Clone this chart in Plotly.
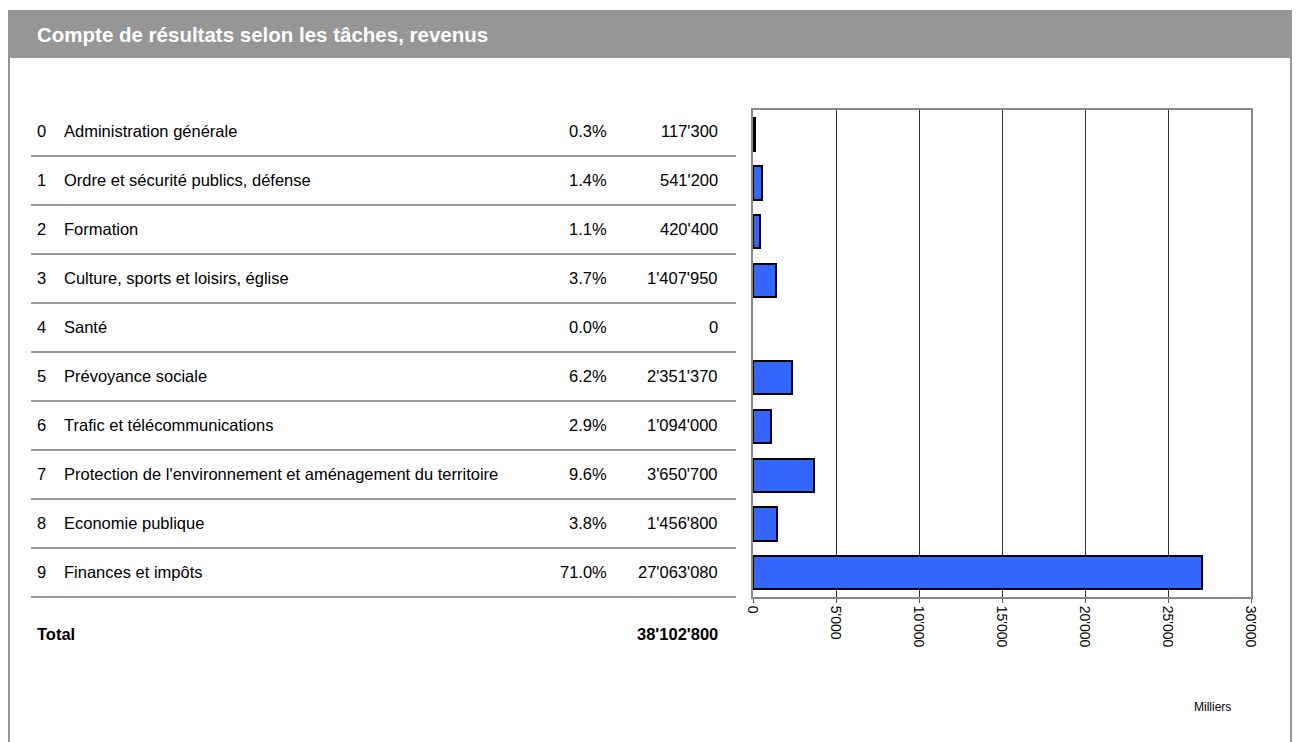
import plotly.graph_objects as go

W, H = 1296, 742

codes = ["0", "1", "2", "3", "4", "5", "6", "7", "8", "9"]
labels = [
    "Administration générale",
    "Ordre et sécurité publics, défense",
    "Formation",
    "Culture, sports et loisirs, église",
    "Santé",
    "Prévoyance sociale",
    "Trafic et télécommunications",
    "Protection de l'environnement et aménagement du territoire",
    "Economie publique",
    "Finances et impôts",
]
pct_labels = ["0.3%", "1.4%", "1.1%", "3.7%", "0.0%", "6.2%", "2.9%", "9.6%", "3.8%", "71.0%"]
values = [117300, 541200, 420400, 1407950, 0, 2351370, 1094000, 3650700, 1456800, 27063080]
value_labels = ["117'300", "541'200", "420'400", "1'407'950", "0", "2'351'370",
                "1'094'000", "3'650'700", "1'456'800", "27'063'080"]
total_label = "38'102'800"
tick_vals = [0, 5000, 10000, 15000, 20000, 25000, 30000]
tick_text = ["0", "5'000", "10'000", "15'000", "20'000", "25'000", "30'000"]

FONT = "Liberation Sans, Arial, sans-serif"
TS = 16.5

def px(x):
    return x / W

def py(y):
    return 1 - y / H

# plot area in pixels
PX0, PX1 = 753, 1251
PY0, PY1 = 110, 597

fig = go.Figure()
fig.add_trace(go.Bar(
    x=[v / 1000 for v in values],
    y=list(range(len(values))),
    orientation="h",
    width=0.68,
    marker=dict(color="#3366FF",
                line=dict(color="#000000", width=[2 if v > 0 else 0 for v in values])),
    hoverinfo="skip",
    showlegend=False,
))

shapes = []
annotations = []

# header band
shapes.append(dict(type="rect", xref="paper", yref="paper",
                   x0=px(9), x1=px(1292), y0=py(58), y1=py(10),
                   fillcolor="#969696", line=dict(width=0), layer="below"))
# frame borders
shapes.append(dict(type="line", xref="paper", yref="paper",
                   x0=px(9), x1=px(9), y0=py(10), y1=py(742),
                   line=dict(color="#969696", width=2)))
shapes.append(dict(type="line", xref="paper", yref="paper",
                   x0=px(1291), x1=px(1291), y0=py(10), y1=py(742),
                   line=dict(color="#969696", width=2)))

annotations.append(dict(text="<b>Compte de résultats selon les tâches, revenus</b>",
                        xref="paper", yref="paper", x=px(35), y=py(34),
                        xanchor="left", yanchor="middle", showarrow=False,
                        font=dict(family=FONT, size=20.5, color="#ffffff")))

row_y0 = 131
row_step = 49.0
for i in range(len(labels)):
    yc = row_y0 + i * row_step
    annotations.append(dict(text=codes[i], xref="paper", yref="paper", x=px(35), y=py(yc),
                            xanchor="left", yanchor="middle", showarrow=False,
                            font=dict(family=FONT, size=TS, color="#000")))
    annotations.append(dict(text=labels[i], xref="paper", yref="paper", x=px(62), y=py(yc),
                            xanchor="left", yanchor="middle", showarrow=False,
                            font=dict(family=FONT, size=TS, color="#000")))
    annotations.append(dict(text=pct_labels[i], xref="paper", yref="paper", x=px(609), y=py(yc),
                            xanchor="right", yanchor="middle", showarrow=False,
                            font=dict(family=FONT, size=TS, color="#000")))
    annotations.append(dict(text=value_labels[i], xref="paper", yref="paper", x=px(720), y=py(yc),
                            xanchor="right", yanchor="middle", showarrow=False,
                            font=dict(family=FONT, size=TS, color="#000")))
    ly = yc + 25
    shapes.append(dict(type="line", xref="paper", yref="paper",
                       x0=px(31), x1=px(736), y0=py(ly), y1=py(ly),
                       line=dict(color="#999999", width=2)))

annotations.append(dict(text="<b>Total</b>", xref="paper", yref="paper", x=px(35), y=py(634),
                        xanchor="left", yanchor="middle", showarrow=False,
                        font=dict(family=FONT, size=TS, color="#000")))
annotations.append(dict(text="<b>" + total_label + "</b>", xref="paper", yref="paper", x=px(720), y=py(634),
                        xanchor="right", yanchor="middle", showarrow=False,
                        font=dict(family=FONT, size=TS, color="#000")))
annotations.append(dict(text="Milliers", xref="paper", yref="paper", x=px(1212), y=py(707),
                        xanchor="center", yanchor="middle", showarrow=False,
                        font=dict(family=FONT, size=12, color="#000")))

fig.update_layout(
    width=W, height=H,
    autosize=False,
    margin=dict(l=0, r=0, t=0, b=0, pad=0),
    paper_bgcolor="#ffffff",
    plot_bgcolor="#ffffff",
    shapes=shapes,
    annotations=annotations,
    bargap=0,
    xaxis=dict(
        domain=[px(PX0), px(PX1)],
        range=[0, 30000],
        tickvals=tick_vals,
        ticktext=tick_text,
        tickangle=90,
        ticks="outside",
        ticklen=4,
        tickcolor="#555555",
        showgrid=True,
        gridcolor="#333333",
        gridwidth=1,
        showline=True,
        linecolor="#888888",
        linewidth=2,
        mirror=True,
        zeroline=False,
        automargin=False,
        tickfont=dict(family=FONT, size=14, color="#000"),
        fixedrange=True,
    ),
    yaxis=dict(
        domain=[py(PY1), py(PY0)],
        range=[9.5, -0.5],
        showticklabels=False,
        showgrid=False,
        zeroline=False,
        showline=True,
        linecolor="#888888",
        linewidth=2,
        mirror=True,
        ticks="",
        automargin=False,
        fixedrange=True,
    ),
)

post = ("document.documentElement.style.overflow='hidden';"
        "document.body.style.margin='0';"
        "document.body.style.overflow='hidden';"
        "window.dispatchEvent(new Event('resize'));")

fig.write_html("out.html", post_script=post, config={"displayModeBar": False})
